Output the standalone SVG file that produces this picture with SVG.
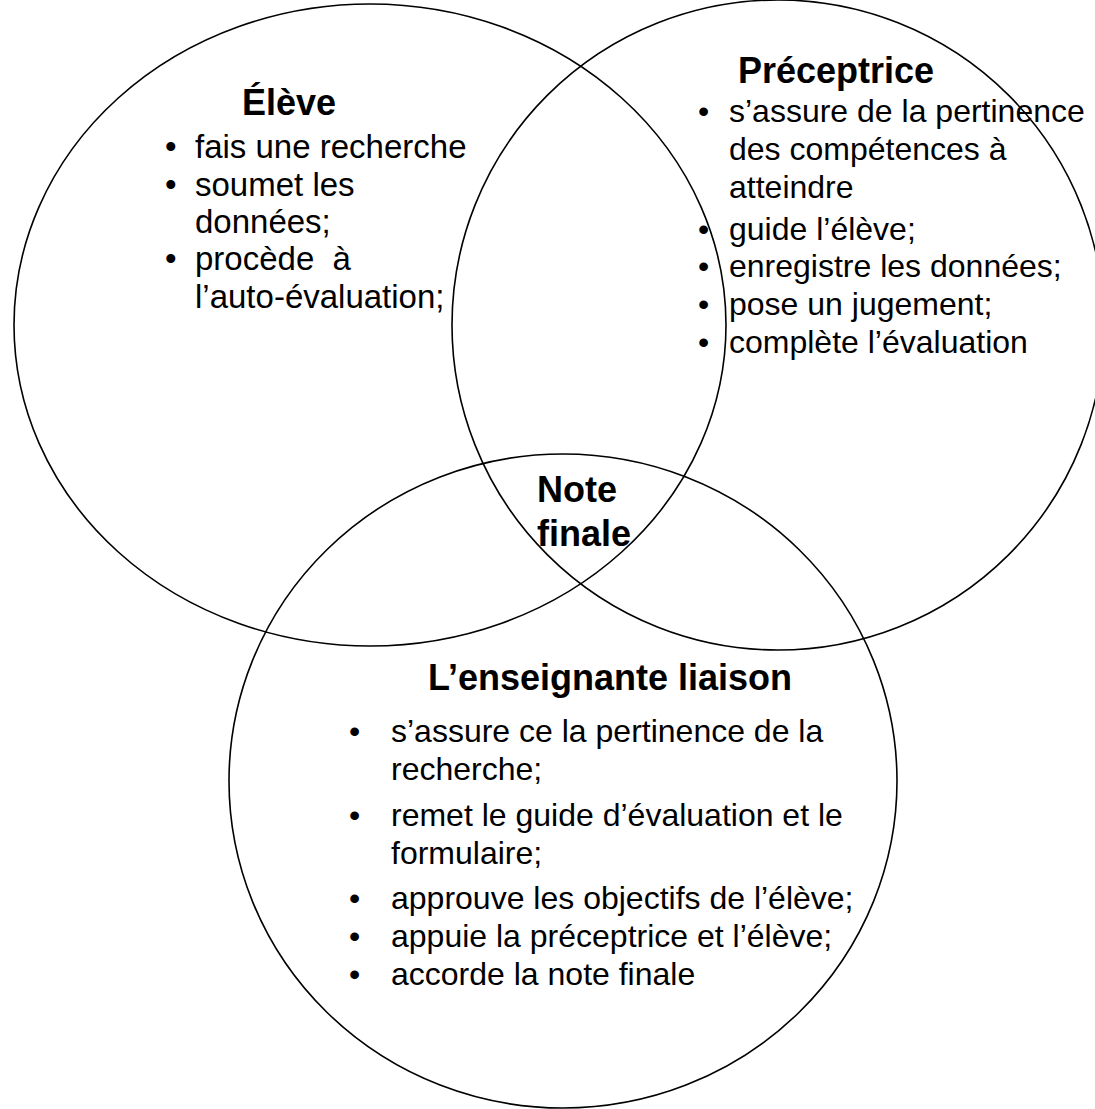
<svg xmlns="http://www.w3.org/2000/svg" width="1095" height="1109" viewBox="0 0 1095 1109">
<style>
.c{fill:none;stroke:#000;stroke-width:1.6}
.t{font-family:"Liberation Sans",Arial,sans-serif;font-size:36px;font-weight:bold;fill:#000}
.b{font-family:"Liberation Sans",Arial,sans-serif;font-size:32px;fill:#000}
.e{font-size:33px}
</style>
<rect width="1095" height="1109" fill="#fff"/>
<g id="connectors"></g>
<g id="eleve">
<ellipse class="c" cx="370" cy="325" rx="356" ry="321"/>
<text class="t" x="242" y="115">Élève</text>
<text class="b e" x="165" y="158">•</text><text class="b e" x="195" y="158">fais une recherche</text>
<text class="b e" x="165" y="196">•</text><text class="b e" x="195" y="196">soumet les</text>
<text class="b e" x="195" y="233">données;</text>
<text class="b e" x="165" y="270">•</text><text class="b e" x="195" y="270" xml:space="preserve">procède  à</text>
<text class="b e" x="195" y="308">l’auto-évaluation;</text>
</g>
<g id="preceptrice">
<ellipse class="c" cx="778" cy="325" rx="326" ry="325"/>
<text class="t" x="738" y="83">Préceptrice</text>
<text class="b" x="698" y="122">•</text><text class="b" x="729" y="122">s’assure de la pertinence</text>
<text class="b" x="729" y="160">des compétences à</text>
<text class="b" x="729" y="198">atteindre</text>
<text class="b" x="698" y="240">•</text><text class="b" x="729" y="240">guide l’élève;</text>
<text class="b" x="698" y="277">•</text><text class="b" x="729" y="277">enregistre les données;</text>
<text class="b" x="698" y="315">•</text><text class="b" x="729" y="315">pose un jugement;</text>
<text class="b" x="698" y="353">•</text><text class="b" x="729" y="353">complète l’évaluation</text>
</g>
<g id="enseignante">
<ellipse class="c" cx="563" cy="781" rx="334" ry="327"/>
<text class="t" x="428" y="690">L’enseignante liaison</text>
<text class="b" x="349" y="742">•</text><text class="b" x="391" y="742">s’assure ce la pertinence de la</text>
<text class="b" x="391" y="780">recherche;</text>
<text class="b" x="349" y="826">•</text><text class="b" x="391" y="826">remet le guide d’évaluation et le</text>
<text class="b" x="391" y="864">formulaire;</text>
<text class="b" x="349" y="909">•</text><text class="b" x="391" y="909">approuve les objectifs de l’élève;</text>
<text class="b" x="349" y="947">•</text><text class="b" x="391" y="947">appuie la préceptrice et l’élève;</text>
<text class="b" x="349" y="985">•</text><text class="b" x="391" y="985">accorde la note finale</text>
</g>
<g id="note-finale">
<text class="t" x="537" y="502">Note</text>
<text class="t" x="537" y="546">finale</text>
</g>
</svg>
